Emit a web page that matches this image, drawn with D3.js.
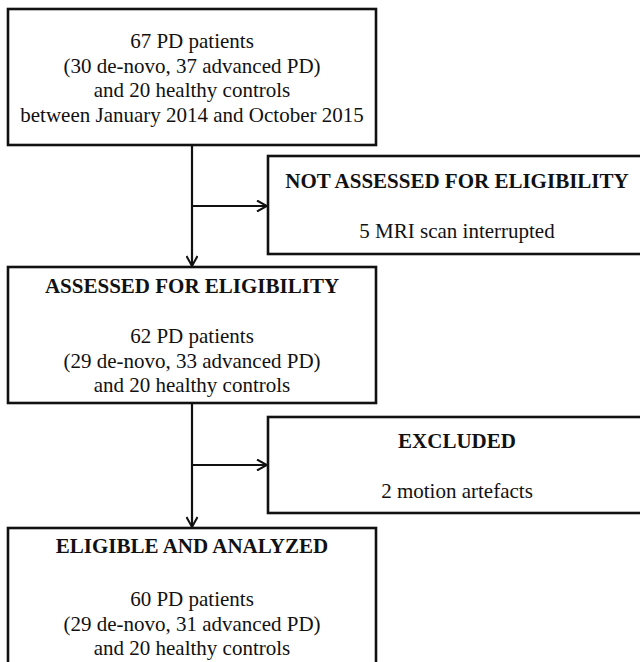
<!DOCTYPE html>
<html>
<head>
<meta charset="utf-8">
<script src="https://d3js.org/d3.v7.min.js"></script>
<style>
  body { margin: 0; background: #fff; }
  svg { display: block; }
  text { font-family: "Liberation Serif", "Times New Roman", serif; font-size: 21px; fill: #111; }
  .title { font-weight: bold; }
</style>
</head>
<body>
<script>
//Declare consts/global variables
const width = 640;
const height = 662;

//Data - box titles and text lines
const titles = ["", "NOT ASSESSED FOR ELIGIBILITY", "ASSESSED FOR ELIGIBILITY", "EXCLUDED", "ELIGIBLE AND ANALYZED"];
const bodyLines = [
    ["67 PD patients", "(30 de-novo, 37 advanced PD)", "and 20 healthy controls", "between January 2014 and October 2015"],
    ["5 MRI scan interrupted"],
    ["62 PD patients", "(29 de-novo, 33 advanced PD)", "and 20 healthy controls"],
    ["2 motion artefacts"],
    ["60 PD patients", "(29 de-novo, 31 advanced PD)", "and 20 healthy controls"]
];

//Layout of boxes (x0, x1, y0, y1, first title baseline, first body baseline)
const layout = [
    {x0: 8,   x1: 376, y0: 9,   y1: 145, tY: 0,   bY: 48},
    {x0: 268, x1: 646, y0: 156, y1: 254, tY: 188, bY: 238},
    {x0: 8,   x1: 376, y0: 267, y1: 403, tY: 293, bY: 343},
    {x0: 268, x1: 646, y0: 417, y1: 513, tY: 448, bY: 498},
    {x0: 8,   x1: 376, y0: 528, y1: 700, tY: 553, bY: 606}
];
const lineGap = 24.7;

const boxes = titles.map((t, i) => Object.assign({title: t, lines: bodyLines[i]}, layout[i]));

//SVG
const svg = d3.select("body")
            .append("svg")
            .attr("width", width)
            .attr("height", height);

svg.append("defs").append("marker")
    .attr("id", "head")
    .attr("viewBox", "0 0 12 12")
    .attr("refX", 11)
    .attr("refY", 6)
    .attr("markerWidth", 12)
    .attr("markerHeight", 12)
    .attr("markerUnits", "userSpaceOnUse")
    .attr("orient", "auto")
    .append("path")
    .attr("d", "M1,0.5 L11,6 L1,11.5")
    .attr("fill", "none")
    .attr("stroke", "#111")
    .attr("stroke-width", 2);

//Arrows: main column and side branches
const mainX = 192;
const arrows = [
    {x1: mainX, y1: 145, x2: mainX, y2: 266},
    {x1: mainX, y1: 206, x2: 267, y2: 206},
    {x1: mainX, y1: 403, x2: mainX, y2: 527},
    {x1: mainX, y1: 465, x2: 267, y2: 465}
];

svg.selectAll("line.arrow")
    .data(arrows)
    .enter()
    .append("line")
    .attr("class", "arrow")
    .attr("x1", d => d.x1)
    .attr("y1", d => d.y1)
    .attr("x2", d => d.x2)
    .attr("y2", d => d.y2)
    .attr("stroke", "#111")
    .attr("stroke-width", 2.2)
    .attr("marker-end", "url(#head)");

//Boxes
const g = svg.selectAll("g.box")
    .data(boxes)
    .enter()
    .append("g")
    .attr("class", "box");

g.append("rect")
    .attr("x", d => d.x0)
    .attr("y", d => d.y0)
    .attr("width", d => d.x1 - d.x0)
    .attr("height", d => d.y1 - d.y0)
    .attr("fill", "#fff")
    .attr("stroke", "#111")
    .attr("stroke-width", 2.6);

g.filter(d => d.title)
    .append("text")
    .attr("class", "title")
    .attr("x", d => (d.x0 + d.x1) / 2)
    .attr("y", d => d.tY)
    .attr("text-anchor", "middle")
    .text(d => d.title);

g.selectAll("text.line")
    .data(d => d.lines.map((l, i) => ({text: l, x: (d.x0 + d.x1) / 2, y: d.bY + i * lineGap})))
    .enter()
    .append("text")
    .attr("class", "line")
    .attr("x", d => d.x)
    .attr("y", d => d.y)
    .attr("text-anchor", "middle")
    .text(d => d.text);
</script>
</body>
</html>
